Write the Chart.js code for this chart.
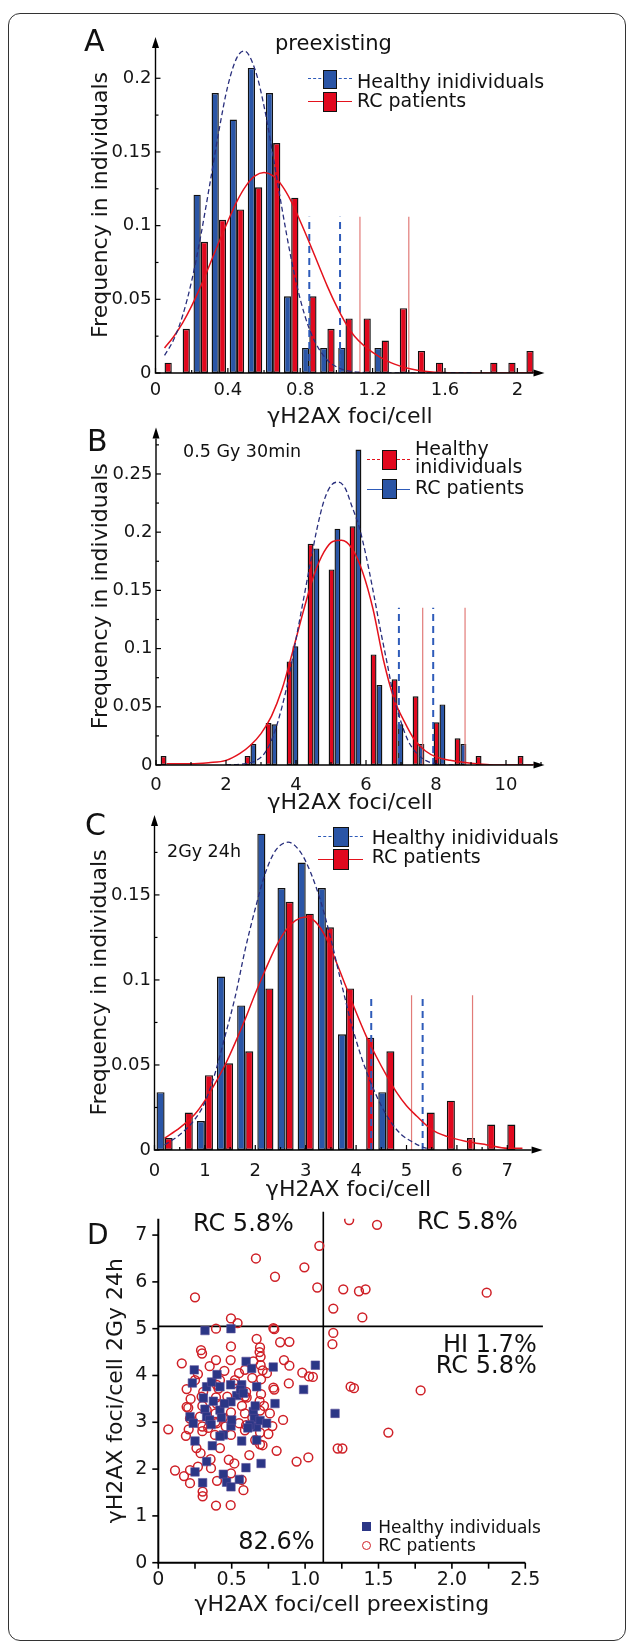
<!DOCTYPE html>
<html>
<head>
<meta charset="utf-8">
<script src="https://cdn.jsdelivr.net/npm/chart.js@4.4.1/dist/chart.umd.min.js"></script>
<style>
  body { margin: 0; background: #fff; }
  #page { position: relative; width: 629px; height: 1645px; overflow: hidden; font-family: "DejaVu Sans", sans-serif; color: #111; }
  #page canvas { position: absolute; left: 0; top: 0; }
  .frame { position: absolute; left: 8px; top: 13px; width: 616px; height: 1626px; border: 1.5px solid #333; border-radius: 12px; }
  .t { position: absolute; white-space: nowrap; }
</style>
</head>
<body>
<div id="page">
  <div class="frame"></div>
  <canvas id="chart-a" width="629" height="1645"></canvas>
  <canvas id="chart-b" width="629" height="1645"></canvas>
  <canvas id="chart-c" width="629" height="1645"></canvas>
  <canvas id="chart-d" width="629" height="1645"></canvas>
</div>
<script>
// ---- A: preexisting foci, bins of 0.1
const aBins = [0.05, 0.15, 0.25, 0.35, 0.45, 0.55, 0.65, 0.75, 0.85, 0.95, 1.05, 1.15, 1.25, 1.35, 1.45, 1.55, 1.65, 1.75, 1.85, 1.95, 2.05];
const aHealthy = [0, 0, 0.121, 0.19, 0.172, 0.207, 0.19, 0.052, 0.017, 0.017, 0.017, 0, 0.017, 0, 0, 0, 0, 0, 0, 0, 0];
const aRC = [0.007, 0.03, 0.089, 0.104, 0.111, 0.126, 0.156, 0.119, 0.052, 0.03, 0.037, 0.037, 0.022, 0.044, 0.015, 0.007, 0, 0, 0.007, 0.007, 0.015];
const aHealthyFit = [[0.05, 0.012], [0.1, 0.0225], [0.15, 0.039], [0.2, 0.0625], [0.25, 0.093], [0.3, 0.128], [0.35, 0.164], [0.4, 0.195], [0.45, 0.214], [0.49, 0.2185], [0.55, 0.206], [0.6, 0.181], [0.65, 0.147], [0.7, 0.111], [0.75, 0.0775], [0.8, 0.05], [0.85, 0.03], [0.9, 0.017], [0.95, 0.0087], [1.0, 0.0042], [1.1, 0.0008], [1.3, 0], [1.75, 0]];
const aRCFit = [[0.05, 0.017], [0.1, 0.0246], [0.15, 0.034], [0.2, 0.0455], [0.25, 0.0588], [0.3, 0.0736], [0.35, 0.0886], [0.4, 0.103], [0.45, 0.1165], [0.5, 0.127], [0.55, 0.1337], [0.6, 0.136], [0.65, 0.1337], [0.7, 0.127], [0.75, 0.1165], [0.8, 0.103], [0.85, 0.0886], [0.9, 0.0736], [0.95, 0.0588], [1.0, 0.0455], [1.05, 0.034], [1.1, 0.025], [1.2, 0.014], [1.3, 0.007], [1.4, 0.003], [1.5, 0.001], [1.7, 0], [2.1, 0]];
const aHealthyCut = [0.85, 1.02];
const aRCCut = [1.13, 1.4];
const aCutTop = 0.106;
const aXTicks = [0, 0.4, 0.8, 1.2, 1.6, 2];
const aXLabels = ["0", "0.4", "0.8", "1.2", "1.6", "2"];
const aXMinor = [0.2, 0.6, 1.0, 1.4, 1.8];
const aYTicks = [0, 0.05, 0.1, 0.15, 0.2];
const aYLabels = ["0", "0.05", "0.1", "0.15", "0.2"];
const aYMinor = [0.025, 0.075, 0.125, 0.175];

// ---- B: 0.5 Gy 30min, bins of 0.6
const bBins = [0.3, 0.9, 1.5, 2.1, 2.7, 3.3, 3.9, 4.5, 5.1, 5.7, 6.3, 6.9, 7.5, 8.1, 8.7, 9.3, 9.9, 10.5];
const bRC = [0.0077, 0, 0, 0, 0.0077, 0.036, 0.089, 0.19, 0.168, 0.205, 0.095, 0.0736, 0.059, 0.0367, 0.0229, 0.0077, 0, 0.0077];
const bHealthy = [0, 0, 0, 0, 0.018, 0.035, 0.102, 0.186, 0.203, 0.271, 0.0687, 0.035, 0.018, 0.052, 0.018, 0, 0, 0];
const bHealthyFit = [[2.0, 0], [2.5, 0.001], [2.8, 0.003], [3.1, 0.01], [3.35, 0.025], [3.6, 0.05], [3.8, 0.076], [4.0, 0.108], [4.2, 0.14], [4.4, 0.172], [4.6, 0.203], [4.8, 0.227], [5.0, 0.24], [5.2, 0.243], [5.4, 0.238], [5.6, 0.222], [5.8, 0.205], [6.0, 0.18], [6.2, 0.15], [6.4, 0.118], [6.6, 0.088], [6.8, 0.058], [7.0, 0.037], [7.2, 0.021], [7.45, 0.01], [7.7, 0.004], [8.0, 0.001], [8.5, 0]];
const bRCFit = [[0.3, 0.001], [1.0, 0.001], [1.5, 0.002], [2.0, 0.004], [2.4, 0.01], [2.7, 0.017], [3.0, 0.027], [3.3, 0.042], [3.6, 0.065], [3.9, 0.097], [4.2, 0.131], [4.5, 0.162], [4.8, 0.183], [5.05, 0.192], [5.3, 0.193], [5.6, 0.186], [5.9, 0.166], [6.2, 0.134], [6.5, 0.09], [6.8, 0.057], [7.1, 0.037], [7.4, 0.021], [7.7, 0.012], [8.0, 0.007], [8.4, 0.004], [9.0, 0.0015], [9.8, 0], [10.8, 0]];
const bHealthyCut = [6.94, 7.92];
const bRCCut = [7.62, 8.83];
const bCutTop = 0.135;
const bXTicks = [0, 2, 4, 6, 8, 10];
const bXLabels = ["0", "2", "4", "6", "8", "10"];
const bXMinor = [1, 3, 5, 7, 9, 11];
const bYTicks = [0, 0.05, 0.1, 0.15, 0.2, 0.25];
const bYLabels = ["0", "0.05", "0.1", "0.15", "0.2", "0.25"];
const bYMinor = [0.025, 0.075, 0.125, 0.175, 0.225, 0.275];

// ---- C: 2Gy 24h, bins of 0.4
const cBins = [0.2, 0.6, 1.0, 1.4, 1.8, 2.2, 2.6, 3.0, 3.4, 3.8, 4.2, 4.6, 5.0, 5.4, 5.8, 6.2, 6.6, 7.0];
const cHealthy = [0.034, 0, 0.017, 0.102, 0.085, 0.186, 0.154, 0.169, 0.154, 0.068, 0, 0.034, 0, 0, 0, 0, 0, 0];
const cRC = [0.007, 0.022, 0.044, 0.051, 0.058, 0.095, 0.146, 0.139, 0.131, 0.095, 0.066, 0.058, 0, 0.022, 0.029, 0.007, 0.015, 0.015];
const cHealthyFit = [[0.2, 0.003], [0.5, 0.009], [0.8, 0.018], [1.0, 0.028], [1.2, 0.045], [1.4, 0.067], [1.6, 0.09], [1.8, 0.118], [2.0, 0.142], [2.2, 0.163], [2.4, 0.176], [2.65, 0.181], [2.9, 0.175], [3.1, 0.163], [3.3, 0.146], [3.5, 0.124], [3.7, 0.099], [3.9, 0.075], [4.1, 0.055], [4.3, 0.039], [4.5, 0.026], [4.7, 0.016], [4.9, 0.009], [5.1, 0.005], [5.3, 0.002], [5.4, 0.001]];
const cRCFit = [[0.2, 0.007], [0.5, 0.013], [0.8, 0.021], [1.0, 0.029], [1.2, 0.039], [1.4, 0.05], [1.6, 0.063], [1.8, 0.077], [2.0, 0.092], [2.2, 0.106], [2.4, 0.119], [2.6, 0.129], [2.8, 0.135], [3.0, 0.137], [3.2, 0.134], [3.4, 0.125], [3.6, 0.111], [3.8, 0.096], [4.0, 0.081], [4.2, 0.067], [4.4, 0.055], [4.6, 0.044], [4.8, 0.034], [5.0, 0.026], [5.2, 0.02], [5.5, 0.012], [5.8, 0.008], [6.2, 0.005], [6.6, 0.003], [7.0, 0.001], [7.3, 0.001]];
const cHealthyCut = [4.3, 5.32];
const cRCCut = [5.1, 6.31];
const cCutTop = 0.091;
const cXTicks = [0, 1, 2, 3, 4, 5, 6, 7];
const cXLabels = ["0", "1", "2", "3", "4", "5", "6", "7"];
const cXMinor = [0.5, 1.5, 2.5, 3.5, 4.5, 5.5, 6.5, 7.5];
const cYTicks = [0, 0.05, 0.1, 0.15];
const cYLabels = ["0", "0.05", "0.1", "0.15"];
const cYMinor = [0.025, 0.075, 0.125, 0.175];

// ---- D: preexisting vs 2Gy 24h, one point per person
const dHealthy = [[0.318, 4.96], [0.495, 5.0], [0.245, 4.12], [0.598, 4.3], [0.636, 4.15], [0.783, 4.18], [1.07, 4.22], [0.232, 3.84], [0.329, 3.76], [0.363, 3.86], [0.4, 4.02], [0.42, 3.76], [0.493, 3.8], [0.568, 3.8], [0.67, 3.76], [0.99, 3.7], [0.534, 3.57], [0.307, 3.52], [0.375, 3.45], [0.795, 3.4], [0.495, 3.44], [0.318, 3.28], [0.42, 3.26], [0.216, 3.12], [0.329, 3.12], [0.238, 2.98], [0.43, 3.1], [0.495, 2.92], [0.647, 3.23], [0.654, 3.08], [0.67, 2.9], [0.693, 3.04], [0.738, 2.98], [0.624, 2.94], [0.25, 2.6], [0.368, 2.5], [0.443, 2.73], [0.568, 2.6], [0.67, 2.62], [0.7, 2.12], [0.25, 1.94], [0.329, 2.16], [0.302, 1.71], [0.443, 1.89], [0.465, 1.72], [0.495, 1.62], [0.552, 1.78], [0.597, 2.03], [0.56, 3.7], [0.5, 3.05], [0.61, 2.88], [0.45, 3.4], [0.35, 3.05], [0.66, 3.35], [0.58, 3.62], [0.42, 2.7], [0.36, 2.95], [1.204, 3.19]];
const dRC = [
  [0.25, 5.67], [0.665, 6.5], [0.795, 6.11], [0.995, 6.31], [1.083, 5.88], [1.097, 6.77], [0.495, 5.22], [0.54, 5.12],
  [1.3, 7.32], [1.49, 7.22], [1.26, 5.84], [1.367, 5.8], [1.412, 5.84], [2.237, 5.77], [1.192, 5.43], [1.39, 5.24],
  [1.192, 4.91], [1.186, 4.67], [1.31, 3.76], [1.333, 3.73], [1.787, 3.68], [1.567, 2.78], [1.222, 2.44], [1.254, 2.44],
  [0.393, 5.0], [0.784, 5.01], [0.79, 4.99], [0.67, 4.78], [0.495, 4.62], [0.693, 4.6], [0.83, 4.71], [0.893, 4.72],
  [0.291, 4.54], [0.298, 4.47], [0.16, 4.26], [0.393, 4.33], [0.493, 4.33], [0.647, 4.3], [0.697, 4.4], [0.697, 4.22], [0.711, 4.11], [0.856, 4.33], [0.893, 4.21], [0.981, 4.06], [1.027, 3.98], [1.053, 3.97],
  [0.27, 4.03], [0.193, 3.71], [0.42, 3.9], [0.522, 3.9], [0.59, 4.12], [0.7, 3.92], [0.784, 3.74], [0.79, 3.7], [0.889, 3.83], [0.568, 3.7], [0.59, 3.55], [0.306, 3.65], [0.41, 3.72], [0.398, 3.8], [0.516, 3.83],
  [0.204, 3.31], [0.216, 3.08], [0.33, 3.26], [0.397, 3.4], [0.39, 3.19], [0.39, 3.01], [0.495, 3.21], [0.59, 3.19], [0.693, 3.25], [0.76, 3.19], [0.393, 3.53], [0.295, 3.55], [0.602, 3.53], [0.598, 3.65],
  [0.188, 2.71], [0.207, 2.85], [0.3, 2.91], [0.3, 2.81], [0.386, 2.73], [0.459, 2.91], [0.495, 2.73], [0.59, 2.83], [0.693, 2.78], [0.777, 2.92], [0.068, 2.85], [0.398, 2.98], [0.598, 2.94], [0.284, 3.12], [0.193, 3.33],
  [0.693, 2.53], [0.71, 2.51], [0.806, 2.39], [0.288, 2.34], [0.356, 2.21], [0.518, 2.12], [0.942, 2.16], [1.022, 2.25],
  [0.114, 1.97], [0.175, 1.85], [0.216, 1.98], [0.216, 1.7], [0.359, 2.02], [0.495, 1.91], [0.302, 1.52], [0.302, 1.42], [0.393, 1.22], [0.493, 1.23], [0.568, 1.77],
  [0.69, 4.5], [0.7, 3.6], [0.69, 3.45], [0.45, 4.1], [0.55, 4.05], [0.35, 4.2], [0.25, 3.9], [0.47, 3.55], [0.64, 3.95], [0.74, 4.05], [0.3, 3.35], [0.22, 3.5], [0.57, 3.35], [0.44, 3.1],
  [0.64, 3.1], [0.72, 3.35], [0.34, 2.88], [0.55, 2.98], [0.66, 2.62], [0.26, 2.45], [0.42, 2.45], [0.62, 2.3], [0.48, 2.2], [0.75, 2.75], [0.85, 3.05], [0.27, 2.05], [0.58, 1.55], [0.4, 1.75]
];
const dCutX = 1.124;
const dCutY = 5.05;
const dXTicks = [0, 0.5, 1, 1.5, 2, 2.5];
const dXLabels = ["0", "0.5", "1.0", "1.5", "2.0", "2.5"];
const dXMinor = [0.25, 0.75, 1.25, 1.75, 2.25];
const dYTicks = [0, 1, 2, 3, 4, 5, 6, 7];
const dYLabels = ["0", "1", "2", "3", "4", "5", "6", "7"];

const FONT = "DejaVu Sans";
const ink = "#151515";
const blueBar = "#2a55a6";
const redBar = "#e1081e";
const navyFit = "#282e7c";
const redFit = "#e4121c";
const blueCut = "#2e5bb9";
const redCut = "#e27b78";

const page = document.getElementById("page");

// axes with arrow heads and small tick marks
const axisLines = {
  id: "axisLines",
  afterDatasetsDraw(chart, args, o) {
    const { ctx, chartArea: a } = chart;
    const xs = chart.scales.x;
    const ys = chart.scales.y;
    const x0 = a.left;
    const y0 = a.bottom;
    const head = o.arrows ? 11 : 0;
    ctx.save();
    ctx.strokeStyle = "#000";
    ctx.fillStyle = "#000";
    ctx.lineWidth = o.width;
    ctx.beginPath();
    ctx.moveTo(x0 - o.width / 2, y0);
    ctx.lineTo(a.right - head, y0);
    ctx.moveTo(x0, y0 + o.width / 2);
    ctx.lineTo(x0, a.top + head);
    ctx.stroke();
    if (o.arrows) {
      ctx.beginPath();
      ctx.moveTo(a.right, y0);
      ctx.lineTo(a.right - head, y0 - 3.5);
      ctx.lineTo(a.right - head, y0 + 3.5);
      ctx.closePath();
      ctx.fill();
      ctx.beginPath();
      ctx.moveTo(x0, a.top);
      ctx.lineTo(x0 - 3.5, a.top + head);
      ctx.lineTo(x0 + 3.5, a.top + head);
      ctx.closePath();
      ctx.fill();
    }
    const dir = o.inward ? -1 : 1;
    ctx.lineWidth = o.tickWidth;
    const marks = (vals, len, isX) => {
      vals.forEach((v) => {
        ctx.beginPath();
        if (isX) {
          const p = xs.getPixelForValue(v);
          ctx.moveTo(p, y0);
          ctx.lineTo(p, y0 + dir * len);
        } else {
          const p = ys.getPixelForValue(v);
          ctx.moveTo(x0, p);
          ctx.lineTo(x0 - dir * len, p);
        }
        ctx.stroke();
      });
    };
    marks(o.xMajor, o.major, true);
    marks(o.xMinor, o.minor, true);
    marks(o.yMajor, o.major, false);
    marks(o.yMinor, o.minor, false);
    ctx.restore();
  },
};

function toPoints(pairs) {
  return pairs.map((p) => ({ x: p[0], y: p[1] }));
}

function chartOptions(g, t) {
  const xh = g.xTitleCY - g.bottom + 15.2;
  return {
    responsive: false,
    animation: false,
    events: [],
    layout: { padding: { left: 0, top: g.top, right: 629 - g.right, bottom: 1645 - g.bottom - xh } },
    plugins: { legend: { display: false }, tooltip: { enabled: false }, axisLines: t.axes },
    scales: {
      x: {
        type: "linear", min: 0, max: g.xMax, offset: false,
        grid: { display: false, drawTicks: false }, border: { display: false },
        afterFit: (s) => { s.height = xh; },
        afterBuildTicks: (s) => { s.ticks = t.xTicks.map((v) => ({ value: v })); },
        ticks: {
          autoSkip: false, maxRotation: 0, color: ink,
          padding: g.xLabelCY - g.bottom - t.tickSize * 0.6,
          font: { family: FONT, size: t.tickSize },
          callback: (v, i) => t.xLabels[i],
        },
        title: { display: true, text: t.xTitle, color: ink, font: { family: FONT, size: 22 }, padding: { top: 0, bottom: 2 } },
      },
      y: {
        type: "linear", min: 0, max: g.yMax,
        grid: { display: false, drawTicks: false }, border: { display: false },
        afterFit: (s) => { s.width = g.left; },
        afterBuildTicks: (s) => { s.ticks = t.yTicks.map((v) => ({ value: v })); },
        ticks: {
          autoSkip: false, color: ink, padding: g.yLabelPad,
          font: { family: FONT, size: t.tickSize },
          callback: (v, i) => t.yLabels[i],
        },
        title: { display: true, text: t.yTitle, color: ink, font: { family: FONT, size: 22 }, padding: { top: g.yTitleCX - 13.2, bottom: 0 } },
      },
    },
  };
}

function histogram(canvasId, g, t, bars, fits, cuts) {
  const datasets = [];
  fits.forEach((f) => {
    datasets.push({
      type: "line", data: toPoints(f.points), borderColor: f.color, borderWidth: f.width,
      borderDash: f.dash, pointRadius: 0, cubicInterpolationMode: "monotone", order: 0,
    });
  });
  cuts.forEach((c) => {
    c.xs.forEach((v) => {
      datasets.push({
        type: "line", data: [{ x: v, y: 0 }, { x: v, y: c.top }], borderColor: c.color,
        borderWidth: c.width, borderDash: c.dash, pointRadius: 0, order: 0,
      });
    });
  });
  bars.forEach((b) => {
    datasets.push({
      type: "bar", data: b.bins.map((x, i) => ({ x: x, y: b.values[i] })),
      backgroundColor: b.color, borderColor: "#111", borderWidth: 1.4, borderSkipped: false,
      barPercentage: 1, categoryPercentage: g.cat, order: 1,
    });
  });
  return new Chart(canvasId, {
    type: "bar",
    data: { datasets: datasets },
    options: chartOptions(g, t),
    plugins: [axisLines],
  });
}

function histAxes(xMajor, xMinor, yMajor, yMinor) {
  return { arrows: true, inward: true, width: 1.4, tickWidth: 1.2, major: 5, minor: 3, xMajor, xMinor, yMajor, yMinor };
}

const freqTitle = "Frequency in individuals";
const fociTitle = "γH2AX foci/cell";

histogram("chart-a",
  { left: 155.5, right: 544.5, top: 37, bottom: 373, xMax: 2.15, yMax: 0.228, xLabelCY: 390.5, xTitleCY: 417, yTitleCX: 101, yLabelPad: 4, cat: 0.8 },
  { xTicks: aXTicks, xLabels: aXLabels, yTicks: aYTicks, yLabels: aYLabels, tickSize: 18, xTitle: fociTitle, yTitle: freqTitle, axes: histAxes(aXTicks, aXMinor, aYTicks, aYMinor) },
  [{ bins: aBins, values: aHealthy, color: blueBar }, { bins: aBins, values: aRC, color: redBar }],
  [{ points: aHealthyFit, color: navyFit, width: 1.3, dash: [5, 3] }, { points: aRCFit, color: redFit, width: 1.5, dash: [] }],
  [{ xs: aHealthyCut, top: aCutTop, color: blueCut, width: 2, dash: [7, 5] }, { xs: aRCCut, top: aCutTop, color: redCut, width: 1.2, dash: [] }]
);

histogram("chart-b",
  { left: 156, right: 544.5, top: 427.4, bottom: 765, xMax: 11.1, yMax: 0.29, xLabelCY: 785, xTitleCY: 803.3, yTitleCX: 101.7, yLabelPad: 3.5, cat: 0.56 },
  { xTicks: bXTicks, xLabels: bXLabels, yTicks: bYTicks, yLabels: bYLabels, tickSize: 18, xTitle: fociTitle, yTitle: freqTitle, axes: histAxes(bXTicks, bXMinor, bYTicks, bYMinor) },
  [{ bins: bBins, values: bRC, color: redBar }, { bins: bBins, values: bHealthy, color: blueBar }],
  [{ points: bHealthyFit, color: navyFit, width: 1.3, dash: [5, 3] }, { points: bRCFit, color: redFit, width: 1.5, dash: [] }],
  [{ xs: bHealthyCut, top: bCutTop, color: blueCut, width: 2, dash: [7, 5] }, { xs: bRCCut, top: bCutTop, color: redCut, width: 1.2, dash: [] }]
);

histogram("chart-c",
  { left: 154.5, right: 542.6, top: 815, bottom: 1150, xMax: 7.7, yMax: 0.197, xLabelCY: 1171.7, xTitleCY: 1190, yTitleCX: 100.5, yLabelPad: 3.5, cat: 0.8 },
  { xTicks: cXTicks, xLabels: cXLabels, yTicks: cYTicks, yLabels: cYLabels, tickSize: 18, xTitle: fociTitle, yTitle: freqTitle, axes: histAxes(cXTicks, cXMinor, cYTicks, cYMinor) },
  [{ bins: cBins, values: cHealthy, color: blueBar }, { bins: cBins, values: cRC, color: redBar }],
  [{ points: cHealthyFit, color: navyFit, width: 1.3, dash: [5, 3] }, { points: cRCFit, color: redFit, width: 1.5, dash: [] }],
  [{ xs: cHealthyCut, top: cCutTop, color: blueCut, width: 2, dash: [7, 5] }, { xs: cRCCut, top: cCutTop, color: redCut, width: 1.2, dash: [] }]
);

// scatter D
new Chart("chart-d", {
  type: "scatter",
  data: {
    datasets: [
      {
        data: toPoints(dHealthy), pointStyle: "rect", pointRadius: 6,
        backgroundColor: "#2b3686", borderColor: "#5b4f98", borderWidth: 0.6, order: 0,
      },
      {
        data: toPoints(dRC), pointStyle: "circle", pointRadius: 4.4,
        backgroundColor: "rgba(255,255,255,0)", borderColor: "#cf2027", borderWidth: 1.5, order: 1,
      },
      {
        data: [{ x: 0, y: dCutY }, { x: 2.62, y: dCutY }], showLine: true, pointRadius: 0,
        borderColor: "#000", borderWidth: 1.6, clip: false, order: 2,
      },
      {
        data: [{ x: dCutX, y: 0 }, { x: dCutX, y: 7.5 }], showLine: true, pointRadius: 0,
        borderColor: "#000", borderWidth: 1.6, clip: false, order: 2,
      },
    ],
  },
  options: chartOptions(
    { left: 158.3, right: 525.3, top: 1218.7, bottom: 1562.7, xMax: 2.5, yMax: 7.35, xLabelCY: 1580.5, xTitleCY: 1605, yTitleCX: 116.7, yLabelPad: 11 },
    {
      xTicks: dXTicks, xLabels: dXLabels, yTicks: dYTicks, yLabels: dYLabels, tickSize: 19,
      xTitle: "γH2AX foci/cell preexisting", yTitle: "γH2AX foci/cell 2Gy 24h",
      axes: { arrows: false, inward: false, width: 2, tickWidth: 1.6, major: 6, minor: 6, xMajor: dXTicks, xMinor: dXMinor, yMajor: dYTicks, yMinor: [] },
    }
  ),
  plugins: [axisLines],
});

// texts and legends
function text(txt, x, cy, size, align) {
  const d = document.createElement("div");
  d.className = "t";
  d.textContent = txt;
  d.style.fontSize = size + "px";
  d.style.lineHeight = size * 1.2 + "px";
  d.style.top = cy - size * 0.6 + "px";
  if (align === "right") d.style.right = 629 - x + "px";
  else d.style.left = x + "px";
  page.appendChild(d);
}

function box(css) {
  const d = document.createElement("div");
  d.style.cssText = "position:absolute;box-sizing:border-box;" + css;
  page.appendChild(d);
}

function swatch(x1, x2, cy, lineColor, dashed, sx, sy, sw, sh, fill) {
  box(`left:${x1}px;top:${cy - 0.75}px;width:${x2 - x1}px;height:0;border-top:1.5px ${dashed ? "dashed" : "solid"} ${lineColor};`);
  box(`left:${sx}px;top:${sy}px;width:${sw}px;height:${sh}px;background:${fill};border:1.5px solid #111;`);
}

text("A", 84, 41, 30);
text("preexisting", 275, 44, 21);
swatch(308, 352, 79, blueCut, true, 323, 69.5, 13.5, 19, blueBar);
swatch(308, 352, 101.7, redFit, false, 323, 92, 13.5, 19.5, redBar);
text("Healthy inidividuals", 357, 81, 19);
text("RC patients", 357, 100.5, 19);

text("B", 87, 440.7, 30);
text("0.5 Gy 30min", 183, 451.7, 17.5);
swatch(366.7, 410, 460, redFit, true, 381.7, 450, 15, 20, redBar);
swatch(366.7, 410, 489.3, blueCut, false, 381.7, 479.3, 15, 20, blueBar);
text("Healthy", 415, 448.3, 19);
text("inidividuals", 415, 466.7, 19);
text("RC patients", 415, 487.3, 19);

text("C", 85, 825, 30);
text("2Gy 24h", 167, 851.7, 17.5);
swatch(318, 363, 837, blueCut, true, 332.7, 826.7, 16.6, 20.6, blueBar);
swatch(318, 363, 859.7, redFit, false, 332.7, 849.3, 16.6, 20.7, redBar);
text("Healthy inidividuals", 371.7, 837.7, 19);
text("RC patients", 371.7, 856.7, 19);

text("D", 87, 1235, 28);
text("RC 5.8%", 193, 1223.3, 24);
text("RC 5.8%", 417, 1221.7, 24);
text("HI 1.7%", 536.7, 1344, 24, "right");
text("RC 5.8%", 536.7, 1365, 24, "right");
text("82.6%", 238.3, 1541.7, 24);
box("left:361.7px;top:1521.5px;width:9px;height:9.5px;background:#2b3686;");
text("Healthy individuals", 378.3, 1526.7, 17);
box("left:361.5px;top:1540.5px;width:9.5px;height:9.5px;border:1.5px solid #cf2027;border-radius:50%;");
text("RC patients", 378.3, 1545, 17);
</script>
</body>
</html>
